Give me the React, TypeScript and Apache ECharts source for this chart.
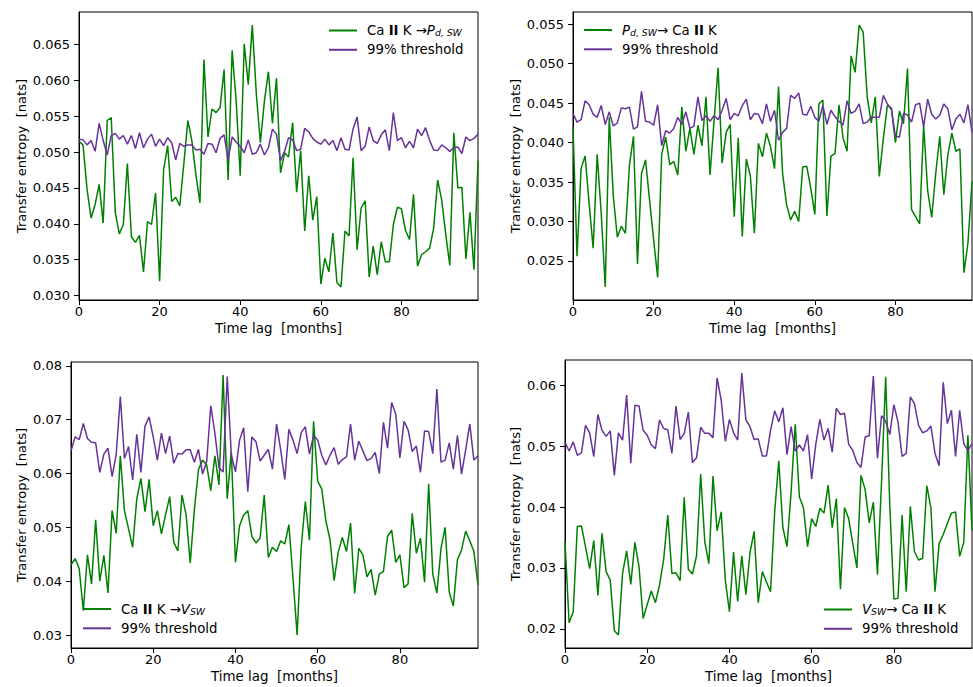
import React, { useEffect, useRef } from "react";
import * as echarts from "echarts";

const lags = Array.from({ length: 100 }, (_, i) => i);

const xTicks = [0, 20, 40, 60, 80];
const yTicksTop1 = [0.03, 0.035, 0.04, 0.045, 0.05, 0.055, 0.06, 0.065];
const yTicksTop2 = [0.025, 0.03, 0.035, 0.04, 0.045, 0.05, 0.055];
const yTicksBot1 = [0.03, 0.04, 0.05, 0.06, 0.07, 0.08];
const yTicksBot2 = [0.02, 0.03, 0.04, 0.05, 0.06];

// Panel 1: Ca II K -> P_d,SW
const p1TE = [
  0.0515, 0.0510, 0.0448, 0.0408, 0.0427, 0.0455, 0.0401, 0.0544, 0.0548, 0.0416,
  0.0386, 0.0399, 0.0484, 0.0382, 0.0374, 0.0384, 0.0333, 0.0403, 0.0399, 0.0443,
  0.0320, 0.0476, 0.0509, 0.0431, 0.0437, 0.0425, 0.0483, 0.0544, 0.0516, 0.0469,
  0.0429, 0.0629, 0.0521, 0.0560, 0.0555, 0.0562, 0.0615, 0.0461, 0.0642, 0.0571,
  0.0467, 0.0651, 0.0594, 0.0677, 0.0581, 0.0513, 0.0571, 0.0612, 0.0540, 0.0603,
  0.0471, 0.0499, 0.0493, 0.0541, 0.0444, 0.0502, 0.0390, 0.0467, 0.0405, 0.0438,
  0.0316, 0.0352, 0.0333, 0.0387, 0.0318, 0.0312, 0.0390, 0.0383, 0.0492, 0.0364,
  0.0422, 0.0432, 0.0326, 0.0369, 0.0329, 0.0375, 0.0347, 0.0347, 0.0399, 0.0423,
  0.0421, 0.0391, 0.0378, 0.0441, 0.0341, 0.0357, 0.0361, 0.0366, 0.0394, 0.0461,
  0.0433, 0.0385, 0.0342, 0.0527, 0.0450, 0.0451, 0.0351, 0.0416, 0.0336, 0.0488,
];
const p1Thr = [
  0.0518, 0.0517, 0.0510, 0.0516, 0.0501, 0.0540, 0.0516, 0.0496, 0.0523, 0.0526,
  0.0518, 0.0523, 0.0511, 0.0523, 0.0505, 0.0527, 0.0506, 0.0518, 0.0525, 0.0508,
  0.0518, 0.0509, 0.0520, 0.0513, 0.0489, 0.0512, 0.0508, 0.0510, 0.0510, 0.0503,
  0.0504, 0.0497, 0.0512, 0.0511, 0.0499, 0.0519, 0.0524, 0.0489, 0.0521, 0.0514,
  0.0508, 0.0499, 0.0517, 0.0497, 0.0499, 0.0511, 0.0496, 0.0506, 0.0532, 0.0525,
  0.0488, 0.0501, 0.0520, 0.0517, 0.0502, 0.0504, 0.0533, 0.0528, 0.0519, 0.0514,
  0.0511, 0.0518, 0.0510, 0.0516, 0.0502, 0.0520, 0.0504, 0.0503, 0.0532, 0.0549,
  0.0502, 0.0508, 0.0535, 0.0516, 0.0512, 0.0524, 0.0531, 0.0502, 0.0555, 0.0516,
  0.0520, 0.0506, 0.0515, 0.0506, 0.0532, 0.0523, 0.0534, 0.0516, 0.0503, 0.0502,
  0.0510, 0.0506, 0.0501, 0.0506, 0.0507, 0.0498, 0.0521, 0.0516, 0.0519, 0.0525,
];

// Panel 2: P_d,SW -> Ca II K
const p2TE = [
  0.0420, 0.0256, 0.0367, 0.0383, 0.0323, 0.0266, 0.0385, 0.0310, 0.0217, 0.0432,
  0.0332, 0.0280, 0.0294, 0.0285, 0.0371, 0.0408, 0.0246, 0.0361, 0.0378, 0.0327,
  0.0277, 0.0229, 0.0385, 0.0407, 0.0372, 0.0376, 0.0359, 0.0445, 0.0389, 0.0418,
  0.0385, 0.0422, 0.0396, 0.0458, 0.0359, 0.0428, 0.0495, 0.0374, 0.0413, 0.0423,
  0.0306, 0.0406, 0.0281, 0.0379, 0.0358, 0.0285, 0.0399, 0.0382, 0.0412, 0.0395,
  0.0367, 0.0471, 0.0361, 0.0321, 0.0302, 0.0313, 0.0300, 0.0369, 0.0370, 0.0342,
  0.0309, 0.0449, 0.0454, 0.0307, 0.0383, 0.0386, 0.0448, 0.0406, 0.0389, 0.0510,
  0.0489, 0.0549, 0.0540, 0.0458, 0.0425, 0.0458, 0.0357, 0.0405, 0.0447, 0.0444,
  0.0400, 0.0440, 0.0424, 0.0494, 0.0315, 0.0306, 0.0297, 0.0422, 0.0339, 0.0305,
  0.0361, 0.0408, 0.0334, 0.0384, 0.0412, 0.0389, 0.0392, 0.0235, 0.0273, 0.0351,
];
const p2Thr = [
  0.0437, 0.0426, 0.0429, 0.0453, 0.0448, 0.0436, 0.0432, 0.0447, 0.0423, 0.0439,
  0.0421, 0.0425, 0.0444, 0.0443, 0.0445, 0.0417, 0.0420, 0.0465, 0.0427, 0.0426,
  0.0422, 0.0448, 0.0396, 0.0415, 0.0412, 0.0418, 0.0432, 0.0423, 0.0439, 0.0418,
  0.0421, 0.0458, 0.0428, 0.0434, 0.0427, 0.0434, 0.0429, 0.0441, 0.0456, 0.0429,
  0.0437, 0.0434, 0.0447, 0.0455, 0.0429, 0.0437, 0.0436, 0.0424, 0.0449, 0.0427,
  0.0441, 0.0403, 0.0413, 0.0418, 0.0460, 0.0456, 0.0463, 0.0436, 0.0435, 0.0446,
  0.0432, 0.0427, 0.0447, 0.0423, 0.0441, 0.0433, 0.0427, 0.0422, 0.0453, 0.0437,
  0.0440, 0.0449, 0.0424, 0.0426, 0.0432, 0.0432, 0.0432, 0.0460, 0.0449, 0.0442,
  0.0408, 0.0407, 0.0437, 0.0435, 0.0426, 0.0448, 0.0450, 0.0420, 0.0455, 0.0436,
  0.0430, 0.0435, 0.0449, 0.0443, 0.0416, 0.0430, 0.0436, 0.0425, 0.0448, 0.0413,
];

// Panel 3: Ca II K -> V_SW
const p3TE = [
  0.0430, 0.0442, 0.0423, 0.0345, 0.0449, 0.0395, 0.0514, 0.0400, 0.0448, 0.0378,
  0.0531, 0.0489, 0.0633, 0.0531, 0.0497, 0.0463, 0.0553, 0.0591, 0.0529, 0.0589,
  0.0503, 0.0531, 0.0488, 0.0523, 0.0557, 0.0472, 0.0456, 0.0560, 0.0523, 0.0434,
  0.0532, 0.0607, 0.0625, 0.0616, 0.0568, 0.0633, 0.0579, 0.0783, 0.0553, 0.0641,
  0.0435, 0.0503, 0.0523, 0.0531, 0.0483, 0.0471, 0.0480, 0.0560, 0.0444, 0.0463,
  0.0455, 0.0475, 0.0469, 0.0505, 0.0406, 0.0300, 0.0464, 0.0548, 0.0476, 0.0697,
  0.0586, 0.0571, 0.0512, 0.0477, 0.0401, 0.0454, 0.0481, 0.0455, 0.0508, 0.0377,
  0.0461, 0.0449, 0.0408, 0.0422, 0.0374, 0.0413, 0.0418, 0.0483, 0.0495, 0.0435,
  0.0449, 0.0388, 0.0395, 0.0526, 0.0452, 0.0480, 0.0398, 0.0581, 0.0413, 0.0378,
  0.0461, 0.0500, 0.0380, 0.0354, 0.0440, 0.0458, 0.0493, 0.0475, 0.0455, 0.0393,
];
const p3Thr = [
  0.0642, 0.0668, 0.0663, 0.0693, 0.0665, 0.0658, 0.0657, 0.0602, 0.0636, 0.0647,
  0.0594, 0.0636, 0.0743, 0.0628, 0.0650, 0.0588, 0.0673, 0.0602, 0.0688, 0.0705,
  0.0668, 0.0625, 0.0675, 0.0637, 0.0670, 0.0619, 0.0637, 0.0636, 0.0644, 0.0644,
  0.0621, 0.0645, 0.0599, 0.0622, 0.0726, 0.0675, 0.0611, 0.0603, 0.0780, 0.0634,
  0.0603, 0.0662, 0.0685, 0.0566, 0.0668, 0.0659, 0.0623, 0.0634, 0.0645, 0.0608,
  0.0692, 0.0644, 0.0589, 0.0682, 0.0662, 0.0637, 0.0676, 0.0687, 0.0636, 0.0671,
  0.0662, 0.0634, 0.0616, 0.0634, 0.0648, 0.0617, 0.0626, 0.0631, 0.0692, 0.0625,
  0.0660, 0.0642, 0.0624, 0.0628, 0.0639, 0.0600, 0.0695, 0.0647, 0.0732, 0.0710,
  0.0629, 0.0697, 0.0681, 0.0641, 0.0651, 0.0602, 0.0679, 0.0678, 0.0637, 0.0757,
  0.0621, 0.0625, 0.0657, 0.0608, 0.0671, 0.0599, 0.0644, 0.0692, 0.0625, 0.0633,
];

// Panel 4: V_SW -> Ca II K
const p4TE = [
  0.0343, 0.0210, 0.0228, 0.0368, 0.0369, 0.0334, 0.0299, 0.0345, 0.0255, 0.0357,
  0.0294, 0.0280, 0.0197, 0.0190, 0.0291, 0.0328, 0.0273, 0.0342, 0.0302, 0.0217,
  0.0240, 0.0262, 0.0243, 0.0272, 0.0314, 0.0387, 0.0291, 0.0292, 0.0279, 0.0416,
  0.0298, 0.0290, 0.0320, 0.0454, 0.0343, 0.0307, 0.0451, 0.0361, 0.0392, 0.0279,
  0.0228, 0.0326, 0.0245, 0.0320, 0.0256, 0.0325, 0.0360, 0.0243, 0.0294, 0.0277,
  0.0261, 0.0392, 0.0476, 0.0366, 0.0335, 0.0425, 0.0536, 0.0417, 0.0399, 0.0335,
  0.0381, 0.0368, 0.0398, 0.0390, 0.0436, 0.0366, 0.0414, 0.0265, 0.0399, 0.0381,
  0.0340, 0.0300, 0.0452, 0.0429, 0.0374, 0.0408, 0.0289, 0.0442, 0.0614, 0.0403,
  0.0249, 0.0250, 0.0387, 0.0261, 0.0401, 0.0327, 0.0313, 0.0316, 0.0435, 0.0399,
  0.0261, 0.0340, 0.0355, 0.0373, 0.0390, 0.0392, 0.0319, 0.0342, 0.0518, 0.0361,
];
const p4Thr = [
  0.0506, 0.0492, 0.0507, 0.0485, 0.0489, 0.0534, 0.0522, 0.0483, 0.0552, 0.0526,
  0.0516, 0.0525, 0.0452, 0.0522, 0.0510, 0.0584, 0.0472, 0.0567, 0.0566, 0.0526,
  0.0518, 0.0502, 0.0496, 0.0543, 0.0529, 0.0527, 0.0488, 0.0566, 0.0511, 0.0521,
  0.0556, 0.0473, 0.0481, 0.0531, 0.0521, 0.0521, 0.0514, 0.0612, 0.0575, 0.0508,
  0.0544, 0.0522, 0.0510, 0.0620, 0.0543, 0.0532, 0.0511, 0.0512, 0.0484, 0.0484,
  0.0526, 0.0558, 0.0540, 0.0563, 0.0486, 0.0532, 0.0492, 0.0502, 0.0492, 0.0519,
  0.0446, 0.0503, 0.0544, 0.0510, 0.0529, 0.0490, 0.0562, 0.0552, 0.0554, 0.0503,
  0.0493, 0.0473, 0.0465, 0.0515, 0.0517, 0.0615, 0.0480, 0.0550, 0.0541, 0.0519,
  0.0568, 0.0540, 0.0483, 0.0488, 0.0581, 0.0570, 0.0534, 0.0522, 0.0525, 0.0533,
  0.0488, 0.0468, 0.0605, 0.0537, 0.0559, 0.0483, 0.0559, 0.0504, 0.0493, 0.0504,
];

const GREEN = "#008000";
const PURPLE = "#663399";
const FONT = "DejaVu Sans";

const legendLabels: Record<string, string> = {
  "Ca II K → Pd,SW": "Ca {b|II} K →{i|P}{s|d, SW}",
  "Pd,SW → Ca II K": "{i|P}{s|d, SW}→ Ca {b|II} K",
  "Ca II K → VSW": "Ca {b|II} K →{i|V}{s|SW}",
  "VSW → Ca II K": "{i|V}{s|SW}→ Ca {b|II} K",
};

const panels = [
  { te: p1TE, thr: p1Thr, name: "Ca II K → Pd,SW", thrName: "99% threshold ", yTicks: yTicksTop1, dec: 3,
    grid: { left: 79, top: 12, width: 399, height: 288 }, nameGap: 51, legend: { left: 329, top: 24 } },
  { te: p2TE, thr: p2Thr, name: "Pd,SW → Ca II K", thrName: "99% threshold  ", yTicks: yTicksTop2, dec: 3,
    grid: { left: 573, top: 12, width: 399, height: 288 }, nameGap: 51, legend: { left: 584, top: 23.5 } },
  { te: p3TE, thr: p3Thr, name: "Ca II K → VSW", thrName: "99% threshold   ", yTicks: yTicksBot1, dec: 2,
    grid: { left: 71, top: 362, width: 407, height: 286 }, nameGap: 43, legend: { left: 83, top: 602.5 } },
  { te: p4TE, thr: p4Thr, name: "VSW → Ca II K", thrName: "99% threshold    ", yTicks: yTicksBot2, dec: 2,
    grid: { left: 565, top: 360, width: 407, height: 288 }, nameGap: 43, legend: { left: 824, top: 603 } },
];

export default function App() {
  const ref = useRef<HTMLDivElement>(null);
  useEffect(() => {
    if (!ref.current) return;
    const chart = echarts.init(ref.current, null, { renderer: "svg" });
    const axisCommon = {
      axisLine: { show: true, lineStyle: { color: "#000", width: 1 } },
      axisTick: { show: true, inside: false, length: 5, lineStyle: { color: "#000", width: 1 } },
      splitLine: { show: false },
    };
    const option: any = {
      animation: false,
      backgroundColor: "#fff",
      textStyle: { fontFamily: FONT },
      grid: panels.map((p) => ({
        ...p.grid,
        show: true,
        borderColor: "#000",
        borderWidth: 1,
        backgroundColor: "transparent",
        containLabel: false,
      })),
      xAxis: panels.map((p, k) => ({
        type: "value",
        gridIndex: k,
        min: 0,
        max: 99,
        ...axisCommon,
        axisTick: { ...axisCommon.axisTick, customValues: xTicks },
        axisLabel: {
          customValues: xTicks,
          margin: 5,
          fontSize: 13,
          fontFamily: FONT,
          color: "#000",
        },
        name: "Time lag  [months]",
        nameLocation: "middle",
        nameGap: 21.5,
        nameTextStyle: { fontSize: 13.4, fontFamily: FONT, color: "#000" },
      })),
      yAxis: panels.map((p, k) => ({
        type: "value",
        gridIndex: k,
        min: (e: any) => e.min - 0.05 * (e.max - e.min),
        max: (e: any) => e.max + 0.05 * (e.max - e.min),
        ...axisCommon,
        axisTick: { ...axisCommon.axisTick, customValues: p.yTicks },
        axisLabel: {
          customValues: p.yTicks,
          margin: 9,
          fontSize: 13,
          fontFamily: FONT,
          color: "#000",
          formatter: (v: number) => v.toFixed(p.dec),
        },
        name: "Transfer entropy  [nats]",
        nameLocation: "middle",
        nameGap: p.nameGap,
        nameRotate: 90,
        nameTextStyle: { fontSize: 13.1, fontFamily: FONT, color: "#000" },
      })),
      legend: panels.map((p) => ({
        data: [p.name, p.thrName],
        orient: "vertical",
        left: p.legend.left,
        top: p.legend.top,
        padding: 0,
        itemGap: 6.3,
        itemWidth: 28,
        itemHeight: 2,
        icon: "rect",
        selectedMode: false,
        formatter: (n: string) => legendLabels[n] ?? "99% threshold",
        textStyle: {
          fontSize: 13.3,
          fontFamily: FONT,
          color: "#000",
          padding: [0, 0, 0, 5],
          rich: {
            b: { fontSize: 13.3, fontFamily: FONT, fontWeight: "bold", color: "#000" },
            i: { fontSize: 13.3, fontFamily: FONT, fontStyle: "italic", color: "#000" },
            s: { fontSize: 9.3, fontFamily: FONT, fontStyle: "italic", color: "#000", verticalAlign: "bottom", lineHeight: 8 },
          },
        },
      })),
      series: panels.flatMap((p, k) => [
        {
          type: "line",
          name: p.name,
          xAxisIndex: k,
          yAxisIndex: k,
          data: lags.map((l, i) => [l, p.te[i]]),
          symbol: "none",
          color: GREEN,
          lineStyle: { color: GREEN, width: 1.5 },
        },
        {
          type: "line",
          name: p.thrName,
          xAxisIndex: k,
          yAxisIndex: k,
          data: lags.map((l, i) => [l, p.thr[i]]),
          symbol: "none",
          color: PURPLE,
          lineStyle: { color: PURPLE, width: 1.5 },
        },
      ]),
    };
    chart.setOption(option);
    return () => chart.dispose();
  }, []);
  return (
    <div
      ref={ref}
      style={{ position: "absolute", left: 0, top: 0, width: 973, height: 687 }}
    />
  );
}
